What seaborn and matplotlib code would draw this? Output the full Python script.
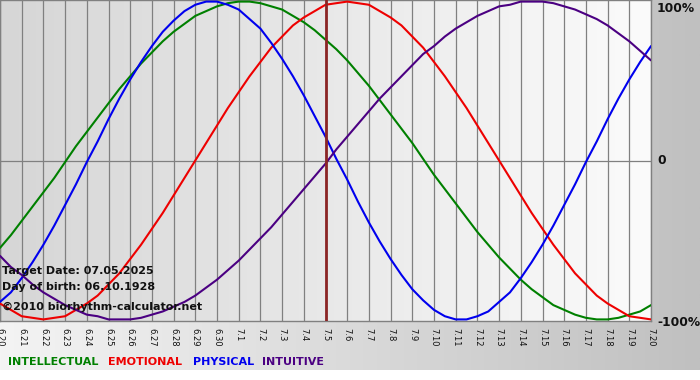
import numpy as np
import pandas as pd
import seaborn as sns
import matplotlib
matplotlib.use("Agg")
import matplotlib.pyplot as plt
from matplotlib.colors import LinearSegmentedColormap

# ---- data ----
dates = ["6.20", "6.21", "6.22", "6.23", "6.24", "6.25", "6.26", "6.27", "6.28", "6.29",
         "6.30", "7.1", "7.2", "7.3", "7.4", "7.5", "7.6", "7.7", "7.8", "7.9",
         "7.10", "7.11", "7.12", "7.13", "7.14", "7.15", "7.16", "7.17", "7.18", "7.19", "7.20"]

# readings every half day, from 6.20 to 7.20
sample_day = [i / 2 for i in range(61)]

intellectual = [-0.55, -0.47, -0.38, -0.29, -0.20, -0.11, -0.01, 0.09, 0.18, 0.27,
                0.36, 0.45, 0.53, 0.61, 0.68, 0.75, 0.81, 0.86, 0.91, 0.94,
                0.97, 0.99, 1.00, 1.00, 0.99, 0.97, 0.95, 0.91, 0.87, 0.82,
                0.76, 0.70, 0.63, 0.55, 0.47, 0.38, 0.29, 0.20, 0.11, 0.01,
                -0.09, -0.18, -0.27, -0.36, -0.45, -0.53, -0.61, -0.68, -0.75, -0.81,
                -0.86, -0.91, -0.94, -0.97, -0.99, -1.00, -1.00, -0.99, -0.97, -0.95, -0.91]
emotional = [-0.90, -0.94, -0.98, -0.99, -1.00, -0.99, -0.98, -0.94, -0.90, -0.85,
             -0.78, -0.71, -0.62, -0.53, -0.43, -0.33, -0.22, -0.11, 0.00, 0.11,
             0.22, 0.33, 0.43, 0.53, 0.62, 0.71, 0.78, 0.85, 0.90, 0.94,
             0.98, 0.99, 1.00, 0.99, 0.98, 0.94, 0.90, 0.85, 0.78, 0.71,
             0.62, 0.53, 0.43, 0.33, 0.22, 0.11, 0.00, -0.11, -0.22, -0.33,
             -0.43, -0.53, -0.62, -0.71, -0.78, -0.85, -0.90, -0.94, -0.98, -0.99, -1.00]
physical = [-0.89, -0.83, -0.74, -0.64, -0.53, -0.41, -0.28, -0.15, -0.01, 0.12,
            0.26, 0.39, 0.51, 0.62, 0.72, 0.81, 0.88, 0.94, 0.98, 1.00,
            1.00, 0.98, 0.95, 0.89, 0.83, 0.74, 0.64, 0.53, 0.41, 0.28,
            0.15, 0.01, -0.12, -0.26, -0.39, -0.51, -0.62, -0.72, -0.81, -0.88,
            -0.94, -0.98, -1.00, -1.00, -0.98, -0.95, -0.89, -0.83, -0.74, -0.64,
            -0.53, -0.41, -0.28, -0.15, -0.01, 0.12, 0.26, 0.39, 0.51, 0.62, 0.72]
intuitive = [-0.60, -0.67, -0.72, -0.78, -0.83, -0.87, -0.91, -0.94, -0.97, -0.98,
             -1.00, -1.00, -1.00, -0.99, -0.97, -0.95, -0.92, -0.89, -0.85, -0.80,
             -0.75, -0.69, -0.63, -0.56, -0.49, -0.42, -0.34, -0.26, -0.18, -0.10,
             -0.02, 0.07, 0.15, 0.23, 0.31, 0.39, 0.46, 0.53, 0.60, 0.67,
             0.72, 0.78, 0.83, 0.87, 0.91, 0.94, 0.97, 0.98, 1.00, 1.00,
             1.00, 0.99, 0.97, 0.95, 0.92, 0.89, 0.85, 0.80, 0.75, 0.69, 0.63]

series_names = ["INTELLECTUAL", "EMOTIONAL", "PHYSICAL", "INTUITIVE"]
series_colors = ["#008000", "#ee0000", "#0000ee", "#4b0082"]
target_label = "7.5"
info_lines = ["Target Date: 07.05.2025", "Day of birth: 06.10.1928", "\u00a92010 biorhythm-calculator.net"]
y_labels = ["100%", "0", "-100%"]

# ---- build frame ----
frames = []
for name, vals in zip(series_names, [intellectual, emotional, physical, intuitive]):
    frames.append(pd.DataFrame({"day": sample_day, "value": vals, "rhythm": name}))
df = pd.concat(frames, ignore_index=True)

sns.set_style("white")
plt.rcParams["font.family"] = ["DejaVu Sans"]

W, H = 700, 380
fig = plt.figure(figsize=(W / 100, H / 100), dpi=100)
fig.patch.set_facecolor("white")

# outer gradient frame
bg = fig.add_axes([0, 10 / H, 1, 370 / H], zorder=0)
bg_cmap = LinearSegmentedColormap.from_list("outer", ["#f4f4f4", "#c0c0c0"])
bg.imshow(np.linspace(0, 1, 256).reshape(1, -1), cmap=bg_cmap, aspect="auto",
          extent=[0, 1, 0, 1])
bg.set_axis_off()

# plot area
px_w, px_h = 651, 321
ax = fig.add_axes([0, (H - px_h) / H, px_w / W, px_h / H], zorder=1)
day_idx = list(range(len(dates)))
n = len(dates) - 1
ylo, yhi = -1.01, 1.01
plot_cmap = LinearSegmentedColormap.from_list("inner", ["#d6d6d6", "#fbfbfb"])
ax.imshow(np.linspace(0, 1, 256).reshape(1, -1), cmap=plot_cmap, aspect="auto",
          extent=[0, n, ylo, yhi], zorder=0)

for i in day_idx:
    ax.axvline(i, color="#808080", lw=0.9, zorder=1)
ax.axhline(0, color="#808080", lw=0.9, zorder=1)

sns.lineplot(data=df, x="day", y="value", hue="rhythm", hue_order=series_names,
             palette=dict(zip(series_names, series_colors)), linewidth=1.5,
             legend=False, ax=ax, zorder=3)

ax.axvline(dates.index(target_label), color="#8b2525", lw=2.0, zorder=4)

ax.set_xlim(0, n)
ax.set_ylim(ylo, yhi)
ax.set_xlabel("")
ax.set_ylabel("")
ax.set_xticks(day_idx)
ax.set_xticklabels(dates, rotation=-90, fontsize=6, color="#111111")
ax.tick_params(axis="x", length=4, width=1, color="#808080", pad=1, direction="out")
ax.set_yticks([])
for s in ax.spines.values():
    s.set_color("#808080")
    s.set_linewidth(1.0)

# right percentage labels (pixel rows of the reference)
for lab, ypix in zip(y_labels, [8, 161, 322]):
    fig.text(657 / W, 1 - ypix / H, lab, fontsize=8.8, fontweight="bold",
             ha="left", va="center", color="#111111")

# info text
for line, ypix in zip(info_lines, [271, 287, 307]):
    fig.text(2 / W, 1 - ypix / H, line, fontsize=8, fontweight="bold",
             ha="left", va="center", color="#111111", zorder=5)

# legend text row
xpos = [8, 108, 193, 262]
for name, col, xp in zip(series_names, series_colors, xpos):
    fig.text(xp / W, 1 - 362 / H, name, fontsize=8, fontweight="bold",
             ha="left", va="center", color=col)

fig.savefig("out.png", dpi=100)
